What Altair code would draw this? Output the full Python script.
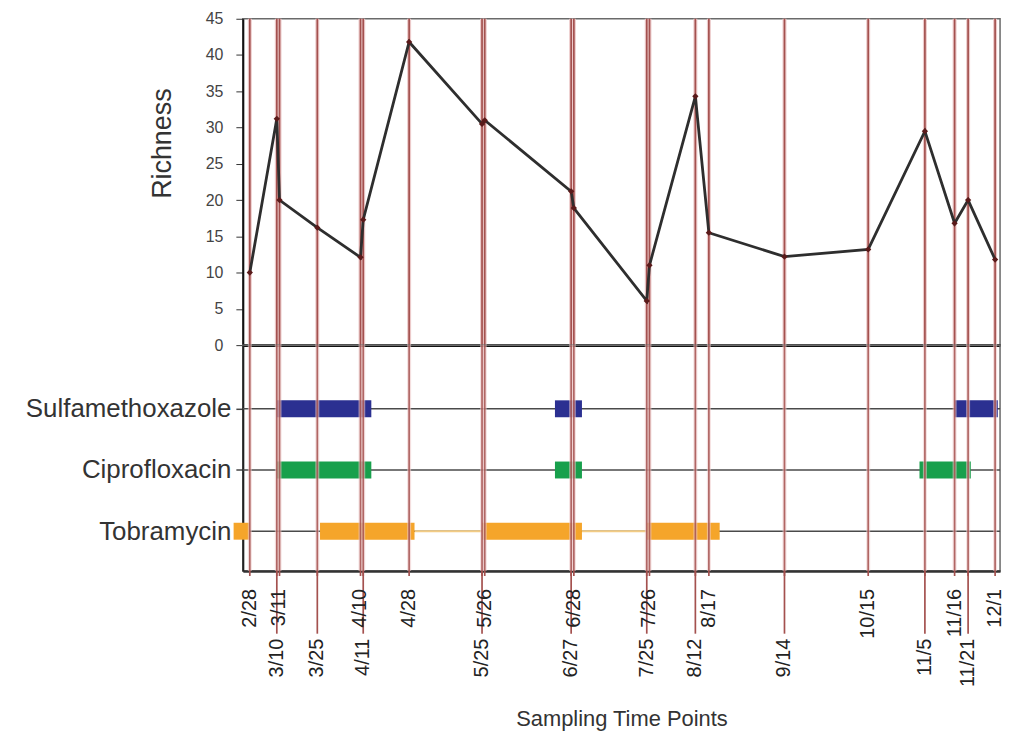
import json
import altair as alt
import pandas as pd

YEAR = 2013

# ---- data ----
sample_dates = ["2/28", "3/10", "3/11", "3/25", "4/10", "4/11", "4/28", "5/25", "5/26",
                "6/27", "6/28", "7/25", "7/26", "8/12", "8/17", "9/14", "10/15", "11/5",
                "11/16", "11/21", "12/1"]
richness = [10.0, 31.2, 20.0, 16.2, 12.1, 17.3, 41.8, 30.5, 31.0,
            21.2, 18.9, 6.1, 11.0, 34.3, 15.5, 12.2, 13.2, 29.5,
            16.8, 20.0, 11.8]

drugs = ["Sulfamethoxazole", "Ciprofloxacin", "Tobramycin"]
drug_colors = ["#2B3091", "#18A04C", "#F5A52A"]

course_drug = ["Sulfamethoxazole", "Sulfamethoxazole", "Sulfamethoxazole",
               "Ciprofloxacin", "Ciprofloxacin", "Ciprofloxacin",
               "Tobramycin", "Tobramycin", "Tobramycin", "Tobramycin"]
course_start = ["3/10", "6/21", "11/16", "3/10", "6/21", "11/3", "2/22", "3/26", "5/25", "7/25"]
course_end = ["4/14", "7/1", "12/2", "4/14", "7/1", "11/22", "2/28", "4/30", "7/1", "8/21"]

gap_drug = ["Tobramycin", "Tobramycin"]
gap_start = ["4/30", "7/1"]
gap_end = ["5/25", "7/25"]

y_ticks = [0, 5, 10, 15, 20, 25, 30, 35, 40, 45]


def iso(md):
    m, d = md.split("/")
    return f"{YEAR}-{int(m):02d}-{int(d):02d}T00:00:00"


samples = pd.DataFrame({
    "date": [iso(d) for d in sample_dates],
    "label": sample_dates,
    "richness": richness,
})
samples["row"] = [i % 2 for i in range(len(samples))]

drug_index = {d: i for i, d in enumerate(drugs)}
courses = pd.DataFrame({
    "drug": course_drug,
    "start": [iso(d) for d in course_start],
    "end": [iso(d) for d in course_end],
})
courses["row"] = courses["drug"].map(drug_index)

gaps = pd.DataFrame({
    "drug": gap_drug,
    "start": [iso(d) for d in gap_start],
    "end": [iso(d) for d in gap_end],
})
gaps["row"] = gaps["drug"].map(drug_index)

rows = pd.DataFrame({"drug": drugs, "row": list(range(len(drugs)))})

# ---- layout ----
W = 761
H_TOP = 328
H_MID = 227
H_LAB = 120
FONT = "Liberation Sans"
RED = "#a4514f"
GLOW = "#eccaca"

xscale = alt.Scale(domain=[alt.DateTime(year=YEAR, month=2, date=25, hours=10),
                           alt.DateTime(year=YEAR, month=12, date=2, hours=20)])


def xenc(field="date", axis=None):
    if axis is None:
        return alt.X(f"{field}:T", scale=xscale, axis=None)
    return alt.X(f"{field}:T", scale=xscale, axis=axis)


# ---- top panel: richness ----
top_xaxis = alt.Axis(labels=False, ticks=False, title=None, grid=False,
                     domainColor="#111111", domainWidth=3)
top_yaxis = alt.Axis(values=y_ticks, title="Richness", titleFontSize=27,
                     titleFontWeight="normal", titleColor="#333333", titlePadding=29,
                     titleY=125, labelFontSize=16, labelColor="#444444", labelPadding=13,
                     tickSize=7, tickColor="#333333", grid=False,
                     domainColor="#111111", domainWidth=2)

top_base = alt.Chart(samples)
top_glow = top_base.mark_rule(color=GLOW, strokeWidth=4).encode(x=xenc(axis=top_xaxis))
top_rule = top_base.mark_rule(color=RED, strokeWidth=1.7).encode(x=xenc(axis=top_xaxis))
top_line = top_base.mark_line(color="#2e2e2e", strokeWidth=2.8).encode(
    x=xenc(axis=top_xaxis),
    y=alt.Y("richness:Q", scale=alt.Scale(domain=[0, 45], nice=False), axis=top_yaxis),
)
top_pts = top_base.mark_point(shape="diamond", filled=True, color="#5a1a1a",
                              size=40, opacity=1).encode(
    x=xenc(axis=top_xaxis),
    y=alt.Y("richness:Q", scale=alt.Scale(domain=[0, 45], nice=False), axis=top_yaxis),
)
top = alt.layer(top_glow, top_rule, top_line, top_pts).properties(width=W, height=H_TOP)

# ---- middle panel: antibiotic courses ----
mid_xaxis = alt.Axis(labels=False, ticks=False, title=None, grid=False,
                     domainColor="#333333", domainWidth=2.5)
mid_yscale = alt.Scale(domain=[-1.04, 2.65], reverse=True, nice=False, zero=False)
mid_yaxis = alt.Axis(values=list(range(len(drugs))),
                     labelExpr=json.dumps(drugs) + "[datum.value]",
                     labelFontSize=26, labelColor="#333333", labelPadding=5, labelLimit=400,
                     tickSize=7, tickColor="#444444", tickWidth=1.5, title=None, grid=False,
                     domainColor="#222222", domainWidth=2)

row_lines = alt.Chart(rows).mark_rule(color="#4a4a4a", strokeWidth=1.5).encode(
    y=alt.Y("row:Q", scale=mid_yscale, axis=mid_yaxis),
    x=alt.value(0), x2=alt.value(W),
)
gap_lines = alt.Chart(gaps).mark_rule(color="#f3cc85", strokeWidth=2).encode(
    x=xenc("start", axis=mid_xaxis), x2="end:T",
    y=alt.Y("row:Q", scale=mid_yscale, axis=mid_yaxis),
)
bars = alt.Chart(courses).mark_rule(strokeWidth=17, strokeCap="butt").encode(
    x=xenc("start", axis=mid_xaxis), x2="end:T",
    y=alt.Y("row:Q", scale=mid_yscale, axis=mid_yaxis),
    color=alt.Color("drug:N", scale=alt.Scale(domain=drugs, range=drug_colors), legend=None),
)
mid_glow = alt.Chart(samples).mark_rule(color=GLOW, strokeWidth=4, opacity=0.6).encode(
    x=xenc(axis=mid_xaxis))
mid_rule = alt.Chart(samples).mark_rule(color=RED, strokeWidth=1.7, opacity=0.85).encode(
    x=xenc(axis=mid_xaxis))
mid = alt.layer(row_lines, gap_lines, bars, mid_glow, mid_rule).properties(width=W, height=H_MID)

# ---- label panel: staggered sampling dates ----
lab_xaxis = alt.Axis(labels=False, ticks=False, domain=False, grid=False,
                     title="Sampling Time Points", titleFontSize=22,
                     titleFontWeight="normal", titleColor="#333333", titlePadding=18)
lab_base = alt.Chart(samples)
short_ticks = lab_base.mark_rule(color=RED, strokeWidth=1.7).encode(
    x=xenc(axis=lab_xaxis), y=alt.value(0), y2=alt.value(5))
long_ticks = lab_base.transform_filter("datum.row == 1").mark_rule(
    color=RED, strokeWidth=1.7).encode(
    x=xenc(axis=lab_xaxis), y=alt.value(0), y2=alt.value(63))
upper_text = lab_base.transform_filter("datum.row == 0").mark_text(
    angle=270, align="right", baseline="middle", fontSize=20, color="#222222", font=FONT).encode(
    x=xenc(axis=lab_xaxis), y=alt.value(18), text="label:N")
lower_text = lab_base.transform_filter("datum.row == 1").mark_text(
    angle=270, align="right", baseline="middle", fontSize=20, color="#222222", font=FONT).encode(
    x=xenc(axis=lab_xaxis), y=alt.value(68), text="label:N")
labels = alt.layer(short_ticks, long_ticks, upper_text, lower_text).properties(
    width=W, height=H_LAB, view=alt.ViewBackground(stroke="transparent"))

chart = alt.vconcat(top, mid, labels, spacing=0, bounds="flush").properties(
    padding={"left": 16, "top": 0, "right": 5, "bottom": 2}
).configure(font=FONT).configure_view(stroke="#6a6a6a", strokeWidth=1.5)

chart.save("out.html", embed_options={"renderer": "svg", "actions": False})
